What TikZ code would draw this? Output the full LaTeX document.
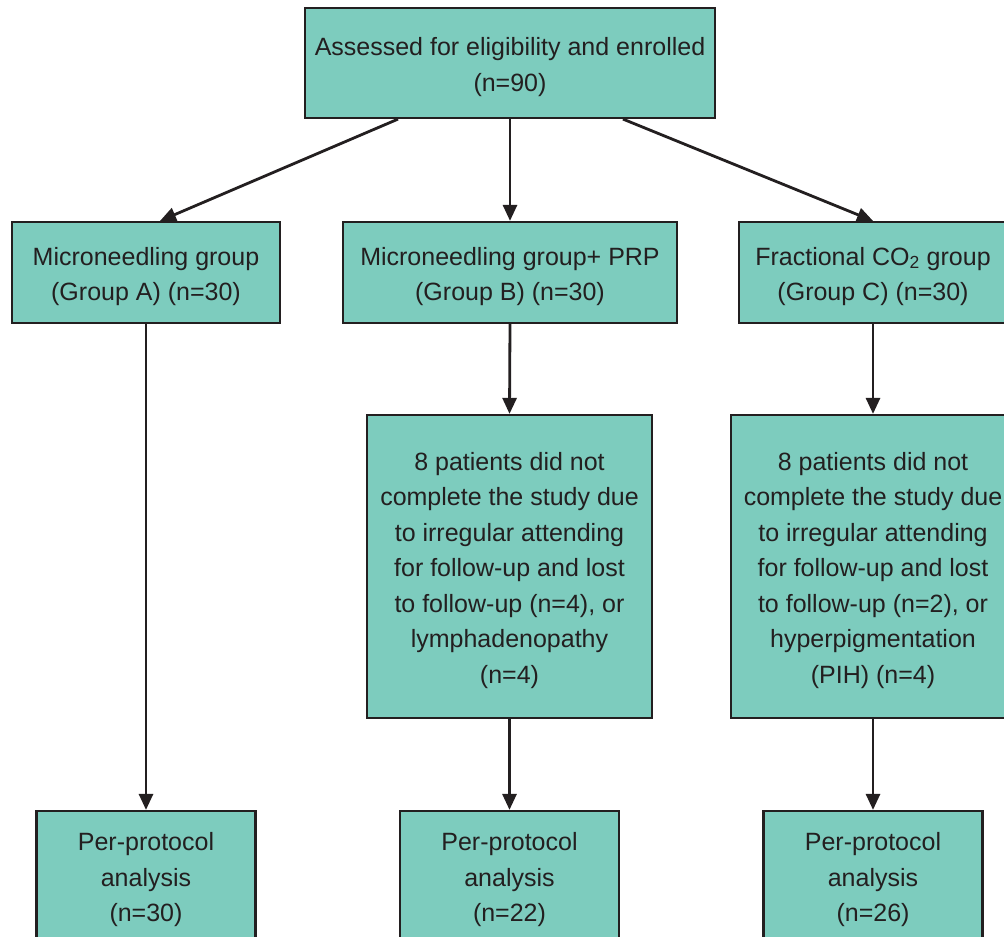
\documentclass[tikz,border=0pt]{standalone}
\usepackage{fontspec}
\setmainfont{Liberation Sans}
\usetikzlibrary{arrows.meta,calc}
\definecolor{boxfill}{HTML}{7DCCBE}
\definecolor{ink}{HTML}{231F20}
\begin{document}
\begin{tikzpicture}[x=1pt,y=-1pt,
  box/.style={draw=ink,fill=boxfill,line width=2.2pt,rectangle,inner sep=0pt},
  txt/.style={inner sep=0pt,align=center,text=ink,yshift=-4pt,font=\fontsize{25}{35.5}\selectfont},
  arr/.style={draw=ink,line width=2.8pt,-{Triangle[length=16pt,width=14pt]}}]
\useasboundingbox (0,0) rectangle (1004,937);
\clip (0,0) rectangle (1004,937);
\node[box,minimum width=410pt,minimum height=110pt,label={[txt,name=topt]center:{Assessed for eligibility and enrolled\\(n=90)}}] (top) at (510,63) {};
\node[box,minimum width=268pt,minimum height=101pt,label={[txt,name=At]center:{Microneedling group\\(Group A) (n=30)}}] (A) at (146,272.5) {};
\node[box,minimum width=334pt,minimum height=101pt,label={[txt,name=Bt]center:{Microneedling group+ PRP\\(Group B) (n=30)}}] (B) at (510,272.5) {};
\node[box,minimum width=268pt,minimum height=101pt,label={[txt,name=Ct]center:{Fractional CO\textsubscript{2} group\\(Group C) (n=30)}}] (C) at (873,272.5) {};
\node[box,minimum width=285pt,minimum height=303pt,label={[txt,name=B2t]center:{8 patients did not\\complete the study due\\to irregular attending\\for follow-up and lost\\to follow-up (n=4), or\\lymphadenopathy\\(n=4)}}] (B2) at (509.5,566.5) {};
\node[box,minimum width=284pt,minimum height=303pt,label={[txt,name=C2t]center:{8 patients did not\\complete the study due\\to irregular attending\\for follow-up and lost\\to follow-up (n=2), or\\hyperpigmentation\\(PIH) (n=4)}}] (C2) at (873,566.5) {};
\node[box,minimum width=219pt,minimum height=130pt,label={[txt,name=A3t]center:{Per-protocol\\analysis\\(n=30)}}] (A3) at (146,876) {};
\node[box,minimum width=219pt,minimum height=130pt,label={[txt,name=B3t]center:{Per-protocol\\analysis\\(n=22)}}] (B3) at (509.5,876) {};
\node[box,minimum width=219pt,minimum height=130pt,label={[txt,name=C3t]center:{Per-protocol\\analysis\\(n=26)}}] (C3) at (873,876) {};
\draw[arr] ($(top.south)+(-112,0)$) -- ($(A.north)+(14,0)$);
\draw[arr] (top.south) -- (B.north);
\draw[arr] ($(top.south)+(113,0)$) -- (C.north);
\draw[arr] (A.south) -- (A3.north);
\draw[arr] (B.south) -- (B2.north);
\draw[arr] (C.south) -- (C2.north);
\draw[arr] (B2.south) -- (B3.north);
\draw[arr] (C2.south) -- (C3.north);
\end{tikzpicture}
\end{document}
